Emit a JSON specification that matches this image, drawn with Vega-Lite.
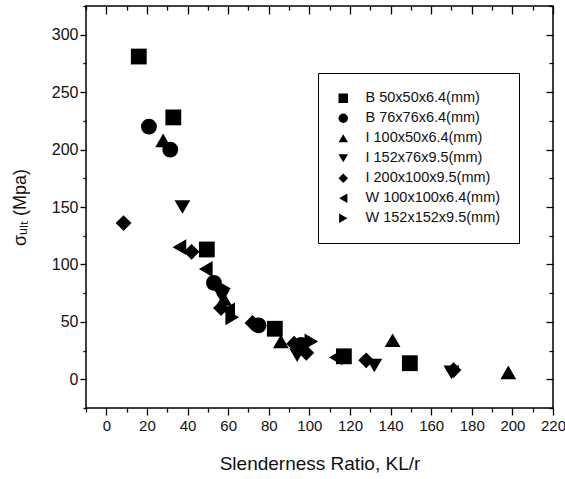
{
  "$schema": "https://vega.github.io/schema/vega-lite/v6.json",
  "width": 467,
  "height": 402,
  "autosize": "none",
  "padding": {"left": 86, "top": 6, "right": 12, "bottom": 71},
  "background": "white",
  "config": {
    "view": {"stroke": "black", "strokeWidth": 1.5},
    "axis": {
      "grid": false,
      "domain": false,
      "tickColor": "black",
      "tickWidth": 1.3,
      "labelFlush": false,
      "labelFont": "Liberation Sans",
      "labelFontSize": 16,
      "labelColor": "#111",
      "titleFont": "Liberation Sans",
      "titleFontWeight": "normal",
      "titleColor": "#111"
    },
    "legend": {
      "labelFont": "Liberation Sans",
      "labelFontSize": 14.5,
      "labelColor": "#111"
    }
  },
  "data": {
    "values": [
      {"series": "B 50x50x6.4(mm)", "x": 16, "y": 281},
      {"series": "B 50x50x6.4(mm)", "x": 33, "y": 228},
      {"series": "B 50x50x6.4(mm)", "x": 49.5, "y": 113},
      {"series": "B 50x50x6.4(mm)", "x": 83, "y": 44},
      {"series": "B 50x50x6.4(mm)", "x": 117, "y": 20},
      {"series": "B 50x50x6.4(mm)", "x": 149.5, "y": 14},
      {"series": "B 76x76x6.4(mm)", "x": 21, "y": 220},
      {"series": "B 76x76x6.4(mm)", "x": 31.5, "y": 200},
      {"series": "B 76x76x6.4(mm)", "x": 53, "y": 84},
      {"series": "B 76x76x6.4(mm)", "x": 75, "y": 47},
      {"series": "B 76x76x6.4(mm)", "x": 96, "y": 30},
      {"series": "I 100x50x6.4(mm)", "x": 28, "y": 208},
      {"series": "I 100x50x6.4(mm)", "x": 58, "y": 70},
      {"series": "I 100x50x6.4(mm)", "x": 86, "y": 33},
      {"series": "I 100x50x6.4(mm)", "x": 141, "y": 34},
      {"series": "I 100x50x6.4(mm)", "x": 198, "y": 6},
      {"series": "I 152x76x9.5(mm)", "x": 37.5, "y": 150},
      {"series": "I 152x76x9.5(mm)", "x": 57, "y": 72},
      {"series": "I 152x76x9.5(mm)", "x": 94, "y": 21},
      {"series": "I 152x76x9.5(mm)", "x": 132, "y": 12},
      {"series": "I 152x76x9.5(mm)", "x": 170, "y": 6},
      {"series": "I 200x100x9.5(mm)", "x": 8.5, "y": 136},
      {"series": "I 200x100x9.5(mm)", "x": 42, "y": 111},
      {"series": "I 200x100x9.5(mm)", "x": 56.5, "y": 62},
      {"series": "I 200x100x9.5(mm)", "x": 72, "y": 49},
      {"series": "I 200x100x9.5(mm)", "x": 92.5, "y": 31},
      {"series": "I 200x100x9.5(mm)", "x": 98.5, "y": 23},
      {"series": "I 200x100x9.5(mm)", "x": 128, "y": 16.5},
      {"series": "I 200x100x9.5(mm)", "x": 171, "y": 8},
      {"series": "W 100x100x6.4(mm)", "x": 36, "y": 115},
      {"series": "W 100x100x6.4(mm)", "x": 49, "y": 96},
      {"series": "W 100x100x6.4(mm)", "x": 60, "y": 60},
      {"series": "W 100x100x6.4(mm)", "x": 113, "y": 19},
      {"series": "W 152x152x9.5(mm)", "x": 58, "y": 79},
      {"series": "W 152x152x9.5(mm)", "x": 62, "y": 54},
      {"series": "W 152x152x9.5(mm)", "x": 101, "y": 33}
    ]
  },
  "layer": [
    {
      "mark": {"type": "point", "filled": true, "color": "black", "opacity": 1, "size": 250},
      "encoding": {
        "x": {
          "field": "x", "type": "quantitative",
          "scale": {"domain": [-10, 220], "nice": false, "zero": false},
          "axis": {
            "orient": "bottom",
            "values": [0, 20, 40, 60, 80, 100, 120, 140, 160, 180, 200, 220],
            "tickSize": 7,
            "labelPadding": 3,
            "labelFontSize": 15,
            "title": "Slenderness Ratio, KL/r",
            "titleFontSize": 19,
            "titlePadding": 21
          }
        },
        "y": {
          "field": "y", "type": "quantitative",
          "scale": {"domain": [-25, 325], "nice": false, "zero": false},
          "axis": {
            "orient": "left",
            "values": [0, 50, 100, 150, 200, 250, 300],
            "tickSize": 6,
            "labelPadding": 2,
            "title": "σᵤₗₜ (Mpa)",
            "titleFontSize": 18,
            "titlePadding": 22
          }
        },
        "shape": {
          "field": "series", "type": "nominal",
          "scale": {
            "domain": ["B 50x50x6.4(mm)", "B 76x76x6.4(mm)", "I 100x50x6.4(mm)", "I 152x76x9.5(mm)", "I 200x100x9.5(mm)", "W 100x100x6.4(mm)", "W 152x152x9.5(mm)"],
            "range": ["square", "circle", "triangle-up", "triangle-down", "diamond", "triangle-left", "triangle-right"]
          },
          "legend": {
            "title": null,
            "orient": "none",
            "legendX": 232,
            "legendY": 67,
            "padding": 18,
            "strokeColor": "black",
            "symbolSize": 90,
            "symbolFillColor": "black",
            "symbolStrokeColor": "black",
            "symbolStrokeWidth": 0,
            "labelOffset": 15,
            "rowPadding": 5,
            "encode": {
              "legend": {
                "enter": {"strokeWidth": {"value": 3}},
                "update": {"strokeWidth": {"value": 3}}
              }
            }
          }
        }
      }
    },
    {
      "mark": {"type": "point", "opacity": 0},
      "encoding": {
        "x": {
          "field": "x", "type": "quantitative",
          "axis": {"orient": "bottom", "values": [-10, 10, 30, 50, 70, 90, 110, 130, 150, 170, 190, 210], "tickSize": 4, "labels": false, "title": null}
        },
        "y": {
          "field": "y", "type": "quantitative",
          "axis": {"orient": "left", "values": [-25, 25, 75, 125, 175, 225, 275, 325], "tickSize": 3, "labels": false, "title": null}
        }
      }
    },
    {
      "mark": {"type": "point", "opacity": 0},
      "encoding": {
        "x": {
          "field": "x", "type": "quantitative",
          "axis": {"orient": "top", "values": [0, 20, 40, 60, 80, 100, 120, 140, 160, 180, 200, 220], "tickSize": -8, "labels": false, "title": null}
        },
        "y": {
          "field": "y", "type": "quantitative",
          "axis": {"orient": "right", "values": [0, 50, 100, 150, 200, 250, 300], "tickSize": -7, "labels": false, "title": null}
        }
      }
    },
    {
      "mark": {"type": "point", "opacity": 0},
      "encoding": {
        "x": {
          "field": "x", "type": "quantitative",
          "axis": {"orient": "top", "values": [-10, 10, 30, 50, 70, 90, 110, 130, 150, 170, 190, 210], "tickSize": -4, "labels": false, "title": null}
        },
        "y": {
          "field": "y", "type": "quantitative",
          "axis": {"orient": "right", "values": [-25, 25, 75, 125, 175, 225, 275, 325], "tickSize": -4, "labels": false, "title": null}
        }
      }
    }
  ],
  "resolve": {"axis": {"x": "independent", "y": "independent"}}
}
